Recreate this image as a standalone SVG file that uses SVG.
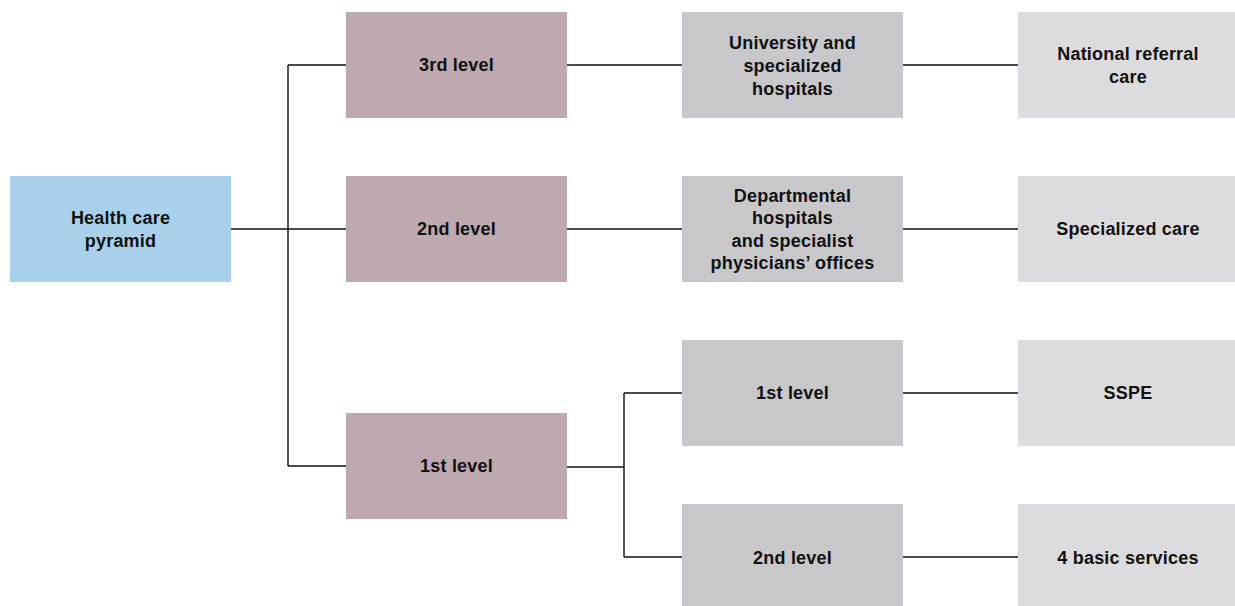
<svg xmlns="http://www.w3.org/2000/svg" width="1235" height="606" viewBox="0 0 1235 606">
<style>
.t{font-family:"Liberation Sans",Arial,sans-serif;font-weight:bold;font-size:18px;letter-spacing:0.2px;fill:#111;text-anchor:middle}
.root{fill:#a8d0ea}
.lvl{fill:#bea9b0}
.mid{fill:#c8c8ca}
.right{fill:#dcdcde}
.c{stroke:#111;stroke-width:1.4;fill:none}
</style>
<rect width="1235" height="606" fill="#fff"/>
<g id="connectors">
<path class="c" d="M231 229H346M288 65V466M288 65H346M288 466H346"/>
<path class="c" d="M567 65H682M567 229H682M567 467H624M624 393V557M624 393H682M624 557H682"/>
<path class="c" d="M903 65H1018M903 229H1018M903 393H1018M903 557H1018"/>
</g>
<g id="root"><rect class="root" x="10" y="176" width="221" height="106"/><text class="t" x="120.5" y="224">Health care</text><text class="t" x="120.5" y="247">pyramid</text></g>
<g id="l3"><rect class="lvl" x="346" y="12" width="221" height="106"/><text class="t" x="456.5" y="71">3rd level</text></g>
<g id="l2"><rect class="lvl" x="346" y="176" width="221" height="106"/><text class="t" x="456.5" y="235">2nd level</text></g>
<g id="l1"><rect class="lvl" x="346" y="413" width="221" height="106"/><text class="t" x="456.5" y="472">1st level</text></g>
<g id="m3"><rect class="mid" x="682" y="12" width="221" height="106"/><text class="t" x="792.5" y="49">University and</text><text class="t" x="792.5" y="72">specialized</text><text class="t" x="792.5" y="95">hospitals</text></g>
<g id="m2"><rect class="mid" x="682" y="176" width="221" height="106"/><text class="t" x="792.5" y="202">Departmental</text><text class="t" x="792.5" y="224">hospitals</text><text class="t" x="792.5" y="247">and specialist</text><text class="t" x="792.5" y="269">physicians’ offices</text></g>
<g id="m1a"><rect class="mid" x="682" y="340" width="221" height="106"/><text class="t" x="792.5" y="399">1st level</text></g>
<g id="m1b"><rect class="mid" x="682" y="504" width="221" height="106"/><text class="t" x="792.5" y="564">2nd level</text></g>
<g id="r3"><rect class="right" x="1018" y="12" width="217" height="106"/><text class="t" x="1128" y="60">National referral</text><text class="t" x="1128" y="83">care</text></g>
<g id="r2"><rect class="right" x="1018" y="176" width="217" height="106"/><text class="t" x="1128" y="235">Specialized care</text></g>
<g id="r1a"><rect class="right" x="1018" y="340" width="217" height="106"/><text class="t" x="1128" y="399">SSPE</text></g>
<g id="r1b"><rect class="right" x="1018" y="504" width="217" height="106"/><text class="t" x="1128" y="564">4 basic services</text></g>
</svg>
